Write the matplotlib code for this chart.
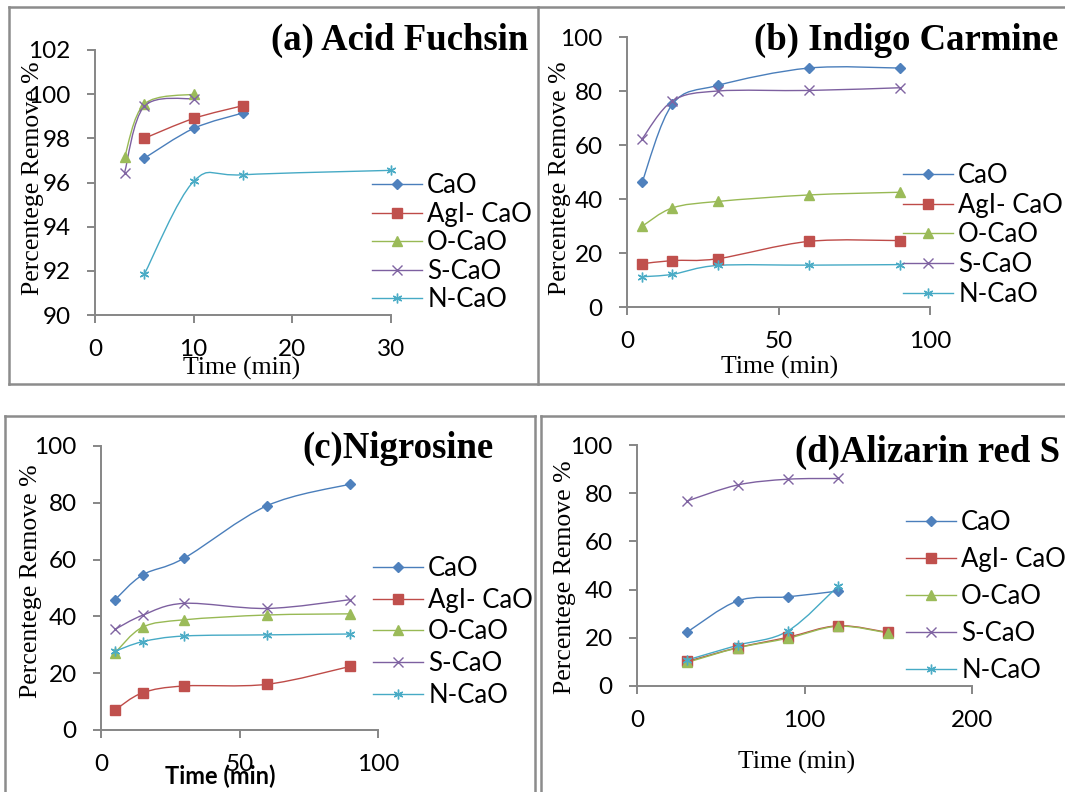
import matplotlib
matplotlib.use("Agg")
import matplotlib.pyplot as plt
from matplotlib.lines import Line2D
from matplotlib.path import Path
from matplotlib.patches import PathPatch

# region data
series_names = ["CaO", "AgI- CaO", "O-CaO", "S-CaO", "N-CaO"]

# (a) Acid Fuchsin
a_time = {
    "CaO": [5, 10, 15],
    "AgI- CaO": [5, 10, 15],
    "O-CaO": [3, 5, 10],
    "S-CaO": [3, 5, 10],
    "N-CaO": [5, 10, 15, 30],
}
a_remove = {
    "CaO": [97.1, 98.45, 99.15],
    "AgI- CaO": [98.0, 98.9, 99.48],
    "O-CaO": [97.15, 99.55, 100.0],
    "S-CaO": [96.45, 99.45, 99.8],
    "N-CaO": [91.85, 96.05, 96.35, 96.55],
}

# (b) Indigo Carmine
b_time = [5, 15, 30, 60, 90]
b_remove = {
    "CaO": [46.3, 75.1, 82.1, 88.5, 88.5],
    "AgI- CaO": [16.0, 17.2, 17.9, 24.3, 24.6],
    "O-CaO": [29.9, 36.7, 39.1, 41.5, 42.5],
    "S-CaO": [62.3, 76.3, 80.0, 80.2, 81.2],
    "N-CaO": [11.2, 12.1, 15.4, 15.5, 15.7],
}

# (c) Nigrosine
c_time = [5, 15, 30, 60, 90]
c_remove = {
    "CaO": [45.8, 54.6, 60.5, 79.0, 86.6],
    "AgI- CaO": [7.0, 13.1, 15.5, 16.1, 22.4],
    "O-CaO": [27.1, 36.2, 38.8, 40.5, 40.9],
    "S-CaO": [35.4, 40.4, 44.6, 42.8, 45.9],
    "N-CaO": [27.7, 31.1, 33.1, 33.5, 33.8],
}

# (d) Alizarin red S
d_time = {
    "CaO": [30, 60, 90, 120],
    "AgI- CaO": [30, 60, 90, 120, 150],
    "O-CaO": [30, 60, 90, 120, 150],
    "S-CaO": [30, 60, 90, 120],
    "N-CaO": [30, 60, 90, 120],
}
d_remove = {
    "CaO": [22.4, 35.3, 37.0, 39.4],
    "AgI- CaO": [10.2, 15.9, 20.2, 25.0, 22.2],
    "O-CaO": [9.8, 15.8, 19.8, 24.8, 22.0],
    "S-CaO": [76.8, 83.4, 85.8, 86.1],
    "N-CaO": [10.8, 16.9, 22.8, 41.4],
}
# endregion

# region styles
line_col = {"CaO": "#4A7EBB", "AgI- CaO": "#BE4B48", "O-CaO": "#98B954",
            "S-CaO": "#7D60A0", "N-CaO": "#46AAC5"}
mark_col = {"CaO": "#4F81BD", "AgI- CaO": "#C0504D", "O-CaO": "#9BBB59",
            "S-CaO": "#8064A2", "N-CaO": "#4BACC6"}
marker = {"CaO": "D", "AgI- CaO": "s", "O-CaO": "^", "S-CaO": "x", "N-CaO": (6, 2, 0)}
msize = {"CaO": 5, "AgI- CaO": 7, "O-CaO": 6.5, "S-CaO": 6.5, "N-CaO": 7}
AXCOL = "#868686"
W, H = 1065, 792
# endregion

fig = plt.figure(figsize=(W / 100, H / 100), dpi=100)


def px_axes(left, right, top, bottom):
    return fig.add_axes([left / W, 1 - bottom / H, (right - left) / W, (bottom - top) / H])


def px_line(xs, ys):
    fig.add_artist(Line2D([x / W for x in xs], [1 - y / H for y in ys],
                          transform=fig.transFigure, color="#8c8c8c", lw=1.8))


def smooth_path(x, y):
    # excel style smoothed line: cubic bezier through the points
    pts = list(zip(x, y))
    verts = [pts[0]]
    codes = [Path.MOVETO]
    n = len(pts)
    for i in range(n - 1):
        p0 = pts[i - 1] if i > 0 else pts[i]
        p1 = pts[i]
        p2 = pts[i + 1]
        p3 = pts[i + 2] if i + 2 < n else pts[i + 1]
        c1 = (p1[0] + (p2[0] - p0[0]) / 6, p1[1] + (p2[1] - p0[1]) / 6)
        c2 = (p2[0] - (p3[0] - p1[0]) / 6, p2[1] - (p3[1] - p1[1]) / 6)
        verts += [c1, c2, p2]
        codes += [Path.CURVE4] * 3
    return Path(verts, codes)


def draw_panel(box, times, values, xlim, xstep, ylim, ystep, title, title_xy,
               ylab_xy, xlab_xy, xlab_bold, leg_xy, leg_space):
    ax = px_axes(*box)
    for name in series_names:
        t = times[name] if isinstance(times, dict) else times
        v = values[name]
        ax.add_patch(PathPatch(smooth_path(t, v), facecolor="none",
                               edgecolor=line_col[name], lw=1.0, clip_on=False))
        ax.plot(t, v, ls="none", marker=marker[name], ms=msize[name],
                color=mark_col[name], mec=mark_col[name], mew=1.0, clip_on=False)
    ax.set_xlim(*xlim)
    ax.set_ylim(*ylim)
    ax.set_xticks(range(xlim[0], xlim[1] + 1, xstep))
    ax.set_yticks(range(ylim[0], ylim[1] + 1, ystep))
    for s in ["top", "right"]:
        ax.spines[s].set_visible(False)
    for s in ["left", "bottom"]:
        ax.spines[s].set_color(AXCOL)
        ax.spines[s].set_linewidth(1.4)
    ax.tick_params(direction="out", length=5.5, width=1.4, color=AXCOL,
                   labelsize=17.5, pad=12)
    for lab in ax.get_xticklabels() + ax.get_yticklabels():
        lab.set_fontfamily("Lato")
    ax.patch.set_alpha(0)

    fig.text(title_xy[0] / W, 1 - title_xy[1] / H, title, ha="right", va="baseline",
             fontsize=26.5, fontweight="bold", family="Liberation Serif")
    fig.text(ylab_xy[0] / W, 1 - ylab_xy[1] / H, "Percentege Remove %", rotation=90,
             ha="center", va="center", fontsize=18.5, family="Liberation Serif")
    if xlab_bold:
        fig.text(xlab_xy[0] / W, 1 - xlab_xy[1] / H, "Time (min)", ha="center",
                 va="center", fontsize=17, fontweight="bold", family="Lato")
    else:
        fig.text(xlab_xy[0] / W, 1 - xlab_xy[1] / H, "Time (min)", ha="center",
                 va="center", fontsize=18.5, family="Liberation Serif")

    handles = [Line2D([], [], color=line_col[n], lw=1.0, marker=marker[n], ms=msize[n],
                      mfc=mark_col[n], mec=mark_col[n]) for n in series_names]
    ax.legend(handles, series_names, loc="upper left",
              bbox_to_anchor=(leg_xy[0] / W, 1 - leg_xy[1] / H),
              bbox_transform=fig.transFigure, frameon=False, borderpad=0,
              borderaxespad=0, handlelength=1.95, handletextpad=0.2,
              labelspacing=leg_space, prop={"family": "Lato", "size": 18.5})
    return ax


draw_panel((95, 391, 50, 315), a_time, a_remove, (0, 30), 10, (90, 102), 2,
           "(a) Acid Fuchsin", (528, 50), (33, 178), (242, 368), False, (372, 173), 0.14)
draw_panel((627, 930, 37, 307), b_time, b_remove, (0, 100), 50, (0, 100), 20,
           "(b) Indigo Carmine", (1058, 50), (560, 178), (780, 367), False, (903, 163), 0.18)
draw_panel((101, 378, 446, 730), c_time, c_remove, (0, 100), 50, (0, 100), 20,
           "(c)Nigrosine", (494, 458), (31, 581), (220, 776), True, (373, 556), 0.26)
draw_panel((637, 972, 445, 686), d_time, d_remove, (0, 200), 100, (0, 100), 20,
           "(d)Alizarin red S", (1060, 462), (565, 577), (797, 762), False, (906, 510), 0.47)

# panel frames
px_line([9, 1065], [7, 7])
px_line([9, 1065], [384, 384])
px_line([9, 9], [7, 384])
px_line([538, 538], [7, 384])
px_line([5, 535], [416, 416])
px_line([5, 5], [416, 792])
px_line([535, 535], [416, 792])
px_line([541, 1065], [416, 416])
px_line([541, 541], [416, 792])

fig.savefig("out.png", dpi=100)
